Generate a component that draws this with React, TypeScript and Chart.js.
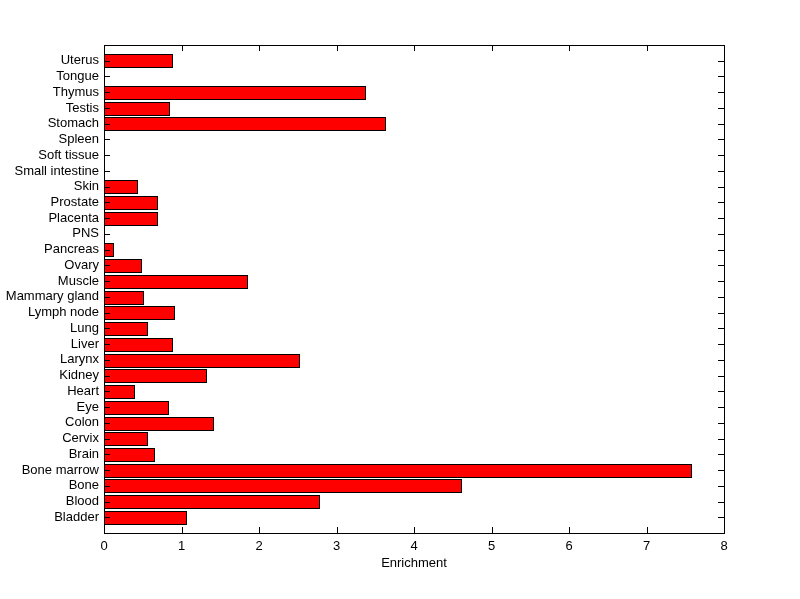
import React, { useEffect, useRef } from 'react';
import { Chart, registerables } from 'chart.js';

Chart.register(...registerables);

// Categories listed bottom-to-top (as on the y axis)
const categories = [
  'Bladder', 'Blood', 'Bone', 'Bone marrow', 'Brain', 'Cervix', 'Colon', 'Eye', 'Heart', 'Kidney',
  'Larynx', 'Liver', 'Lung', 'Lymph node', 'Mammary gland', 'Muscle', 'Ovary', 'Pancreas', 'PNS',
  'Placenta', 'Prostate', 'Skin', 'Small intestine', 'Soft tissue', 'Spleen', 'Stomach', 'Testis',
  'Thymus', 'Tongue', 'Uterus',
];

const enrichment = [
  1.06, 2.77, 4.61, 7.57, 0.64, 0.56, 1.41, 0.82, 0.39, 1.32,
  2.51, 0.88, 0.56, 0.90, 0.50, 1.85, 0.48, 0.12, 0,
  0.68, 0.69, 0.42, 0, 0, 0, 3.62, 0.84,
  3.37, 0, 0.88,
];

const xTicks = [0, 1, 2, 3, 4, 5, 6, 7, 8];
const xTitle = 'Enrichment';

const FONT = "'Liberation Sans', Arial, Helvetica, sans-serif";

export default function App() {
  const ref = useRef<HTMLCanvasElement | null>(null);

  useEffect(() => {
    if (!ref.current) return;
    // top-to-bottom order, padded with an empty slot at each end (MATLAB-like limits)
    const labels = ['', ...categories.slice().reverse(), ''];
    const data = [null, ...enrichment.slice().reverse(), null];

    // snap the library-computed bar rectangles to whole pixels for crisp outlines
    const snap = {
      id: 'snap',
      beforeDatasetsDraw(chart: any) {
        chart.getDatasetMeta(0).data.forEach((el: any) => {
          if (!el || el.$snapped) return;
          const h = Math.round(el.height) + 1;
          const top = Math.round(el.y - el.height / 2);
          el.y = top + h / 2;
          el.height = h;
          el.x = Math.round(el.x) + 1;
          el.base = Math.round(el.base);
          el.$snapped = true;
        });
      },
    };

    const frame = {
      id: 'frame',
      afterDatasetsDraw(chart: any) {
        const { ctx, chartArea: a, scales } = chart;
        const L = 6;
        ctx.save();
        ctx.strokeStyle = '#000';
        ctx.lineWidth = 1;
        ctx.beginPath();
        xTicks.forEach((v) => {
          const px = Math.round(scales.x.getPixelForValue(v)) + 0.5;
          ctx.moveTo(px, a.bottom);
          ctx.lineTo(px, a.bottom - L);
          ctx.moveTo(px, a.top);
          ctx.lineTo(px, a.top + L);
        });
        for (let i = 1; i <= categories.length; i++) {
          const py = Math.round(scales.y.getPixelForValue(i)) + 0.5;
          ctx.moveTo(a.left, py);
          ctx.lineTo(a.left + L, py);
          ctx.moveTo(a.right, py);
          ctx.lineTo(a.right - L, py);
        }
        ctx.stroke();
        ctx.strokeRect(
          Math.round(a.left) + 0.5,
          Math.round(a.top) + 0.5,
          Math.round(a.right - a.left),
          Math.round(a.bottom - a.top)
        );
        ctx.restore();
      },
    };

    const chart = new Chart(ref.current, {
      type: 'bar',
      data: {
        labels,
        datasets: [
          {
            data,
            backgroundColor: '#ff0000',
            borderColor: '#000000',
            borderWidth: 1,
            borderSkipped: false,
            inflateAmount: 0,
            barPercentage: 0.8,
            categoryPercentage: 1,
          },
        ],
      },
      options: {
        indexAxis: 'y',
        responsive: false,
        animation: false,
        layout: { padding: { left: 0, top: 45, right: 76, bottom: 0 } },
        plugins: {
          legend: { display: false },
          tooltip: { enabled: false },
        },
        scales: {
          x: {
            type: 'linear',
            min: 0,
            max: 8,
            afterBuildTicks: (s: any) => {
              s.ticks = xTicks.map((v) => ({ value: v }));
            },
            afterFit: (s: any) => {
              s.height = 66;
            },
            grid: { display: false, drawTicks: false },
            border: { display: false },
            ticks: {
              color: '#000',
              padding: 6,
              font: { family: FONT, size: 13 },
              maxRotation: 0,
            },
            title: {
              display: true,
              text: xTitle,
              color: '#000',
              font: { family: FONT, size: 13 },
              padding: { top: 0, bottom: 28 },
            },
          },
          y: {
            type: 'category',
            offset: false,
            afterFit: (s: any) => {
              s.width = 104;
            },
            grid: { display: false, drawTicks: false },
            border: { display: false },
            ticks: {
              color: '#000',
              padding: 5,
              autoSkip: false,
              font: { family: FONT, size: 13 },
            },
          },
        },
      },
      plugins: [snap, frame],
    } as any);

    return () => chart.destroy();
  }, []);

  return (
    <div style={{ position: 'absolute', left: 0, top: 0, width: 800, height: 599, background: '#fff' }}>
      <canvas ref={ref} width={800} height={599} style={{ display: 'block' }} />
    </div>
  );
}
